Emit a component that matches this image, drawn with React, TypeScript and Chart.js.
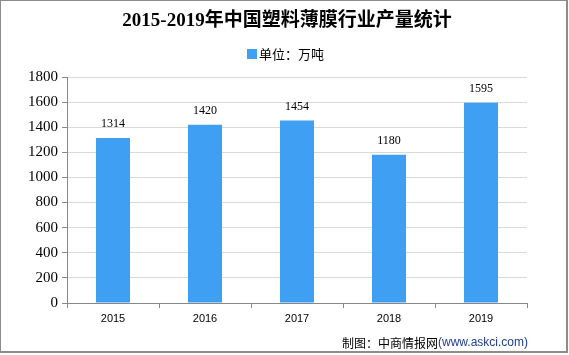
import React, { useEffect, useRef } from "react";
import { Chart, registerables } from "chart.js";

Chart.register(...registerables);

const categories = ["2015", "2016", "2017", "2018", "2019"];
const production = [1314, 1420, 1454, 1180, 1595];
const yTicks = [0, 200, 400, 600, 800, 1000, 1200, 1400, 1600, 1800];
const titleText = "2015-2019年中国塑料薄膜行业产量统计";
const seriesLabel = "单位：万吨";
const sourcePrefix = "制图：中商情报网";
const sourceSuffix = "(www.askci.com)";

const BAR_COLOR = "#3f9ff2";

export default function App() {
  const ref = useRef<HTMLCanvasElement | null>(null);

  useEffect(() => {
    document.body.style.margin = "0";
    const canvas = ref.current;
    if (!canvas) return;

    const decor = {
      id: "decor",
      beforeDraw(chart: any) {
        const ctx = chart.ctx;
        ctx.save();
        ctx.fillStyle = "#ffffff";
        ctx.fillRect(0, 0, chart.width, chart.height);
        ctx.restore();
      },
      afterDraw(chart: any) {
        const ctx = chart.ctx;
        ctx.save();
        // border
        ctx.strokeStyle = "#8c8c8c";
        ctx.lineWidth = 2;
        ctx.strokeRect(0, 0, 567, 352);
        // title
        ctx.fillStyle = "#000000";
        ctx.font = "bold 19px 'Liberation Serif', 'Noto Sans CJK SC', serif";
        ctx.textAlign = "center";
        ctx.textBaseline = "middle";
        ctx.fillText(titleText, 287, 21);
        // legend
        const ds = chart.data.datasets[0];
        ctx.fillStyle = ds.backgroundColor;
        ctx.fillRect(247, 49, 10, 10);
        ctx.fillStyle = "#000000";
        ctx.font = "13px 'Noto Sans CJK SC', sans-serif";
        ctx.textAlign = "left";
        ctx.fillText(ds.label, 259, 54);
        // data labels
        const meta = chart.getDatasetMeta(0);
        ctx.font = "12px 'Liberation Serif', serif";
        ctx.textAlign = "center";
        ctx.textBaseline = "middle";
        meta.data.forEach((bar: any, i: number) => {
          ctx.fillText(String(ds.data[i]), bar.x, bar.y - 14);
        });
        // source
        ctx.font = "12px 'Noto Sans CJK SC', sans-serif";
        ctx.textAlign = "left";
        const w1 = ctx.measureText(sourcePrefix).width;
        ctx.font = "12px 'Liberation Sans', sans-serif";
        const w2 = ctx.measureText(sourceSuffix).width;
        const startX = 528 - w1 - w2;
        ctx.font = "12px 'Noto Sans CJK SC', sans-serif";
        ctx.fillStyle = "#000000";
        ctx.fillText(sourcePrefix, startX, 343);
        ctx.font = "12px 'Liberation Sans', sans-serif";
        ctx.fillStyle = "#1f3d8c";
        ctx.fillText(sourceSuffix, startX + w1, 343);
        ctx.restore();
      },
    };

    const chart = new Chart(canvas, {
      type: "bar",
      data: {
        labels: categories,
        datasets: [
          {
            label: seriesLabel,
            data: production,
            backgroundColor: BAR_COLOR,
            categoryPercentage: 1,
            barPercentage: 0.37,
          },
        ],
      },
      options: {
        responsive: false,
        animation: false,
        layout: { padding: { top: 77, right: 42, bottom: 20, left: 0 } },
        plugins: {
          legend: { display: false },
          title: { display: false },
          tooltip: { enabled: false },
        },
        scales: {
          x: {
            offset: true,
            grid: {
              display: true,
              drawOnChartArea: false,
              drawTicks: true,
              tickLength: 5,
              color: "#888888",
              offset: true,
            },
            border: { display: true, color: "#888888", width: 1 },
            ticks: {
              color: "#000000",
              font: { family: "'Liberation Sans', sans-serif", size: 11 },
              padding: 4,
              maxRotation: 0,
            },
            afterFit(scale: any) {
              scale.height = 32;
            },
          },
          y: {
            min: 0,
            max: 1800,
            afterBuildTicks(scale: any) {
              scale.ticks = yTicks.map((v) => ({ value: v }));
            },
            grid: {
              color: "#d9d9d9",
              tickColor: "#888888",
              tickLength: 5,
            },
            border: { display: true, color: "#888888", width: 1 },
            ticks: {
              color: "#000000",
              font: { family: "'Liberation Serif', serif", size: 15 },
              padding: 4,
              callback: (v: any) => String(v),
            },
            afterFit(scale: any) {
              scale.width = 67;
            },
          },
        },
      },
      plugins: [decor],
    });

    return () => chart.destroy();
  }, []);

  return <canvas ref={ref} width={569} height={355} style={{ display: "block" }} />;
}
